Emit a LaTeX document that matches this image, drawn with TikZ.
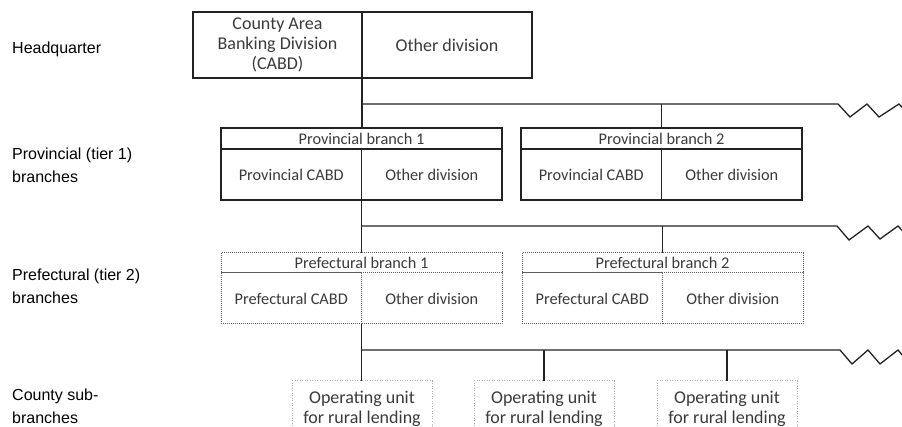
\documentclass[tikz,border=0pt]{standalone}
\usepackage{fontspec}
\usepackage{tikz}
\usetikzlibrary{positioning}
\newfontfamily\boxfont{Carlito}
\newfontfamily\lblfont{Liberation Sans}
\definecolor{ink}{RGB}{34,34,34}
\definecolor{boxtext}{RGB}{58,58,58}
\definecolor{dotgray}{RGB}{95,95,95}
\definecolor{paledot}{RGB}{175,175,175}
\tikzset{
  hqbox/.style={draw=ink,line width=2.4pt,inner sep=0pt,outer sep=0pt,align=center,
    text=boxtext,font=\boxfont\fontsize{18}{20}\selectfont},
  brbox/.style={draw=ink,line width=1.5pt,inner sep=0pt,outer sep=0pt,align=center,
    text=boxtext,font=\boxfont\fontsize{16.3}{19}\selectfont},
  prefbox/.style={brbox,draw=dotgray,line width=1pt,dash pattern=on 1pt off 1pt},
  oubox/.style={draw=paledot,line width=1pt,dash pattern=on 1pt off 1.5pt,inner sep=0pt,
    outer sep=0pt,align=center,text=boxtext,font=\boxfont\fontsize{18}{20}\selectfont},
  link/.style={draw=ink,line width=1.3pt},
  tier/.style={anchor=west,align=left,inner sep=0pt,text=black,
    font=\lblfont\fontsize{16}{23}\selectfont},
}

\begin{document}
\begin{tikzpicture}[x=1pt,y=-1pt]
\useasboundingbox (0,0) rectangle (902,427);
\clip (0,0) rectangle (902,427);
% tier labels
\node[tier] (tHq) at (12,49) {Headquarter};
\node[tier] (tProv) at (12,165) {Provincial (tier 1)\\branches};
\node[tier] (tPref) at (12,286) {Prefectural (tier 2)\\branches};
\node[tier] (tCounty) at (12,406) {County sub-\\branches};
% headquarter
\node[hqbox,anchor=north west,minimum width=169pt,minimum height=66pt] (hqCabd) at (193,12)
  {County Area\\Banking Division\\(CABD)};
\node[hqbox,anchor=north west,minimum width=170pt,minimum height=66pt] (hqOther) at (hqCabd.north east)
  {Other division};
% provincial branches
\foreach \i/\x in {1/221,2/521}{
  \node[brbox,anchor=north west,minimum width=281pt,minimum height=21pt] (prov\i) at (\x,128)
    {Provincial branch \i};
  \node[brbox,anchor=north west,minimum width=140.5pt,minimum height=51pt] (prov\i-cabd) at (prov\i.south west)
    {Provincial CABD};
  \node[brbox,anchor=north west,minimum width=140.5pt,minimum height=51pt] (prov\i-other) at (prov\i-cabd.north east)
    {Other division};
}
% prefectural branches
\foreach \i/\x in {1/221,2/522}{
  \node[prefbox,anchor=north west,minimum width=281pt,minimum height=20pt] (pref\i) at (\x,253)
    {Prefectural branch \i};
  \node[prefbox,anchor=north west,minimum width=140.5pt,minimum height=51pt] (pref\i-cabd) at (pref\i.south west)
    {Prefectural CABD};
  \node[prefbox,anchor=north west,minimum width=140.5pt,minimum height=51pt] (pref\i-other) at (pref\i-cabd.north east)
    {Other division};
}
% county sub-branches
\foreach \i/\x in {1/362,2/544,3/727}
  \node[oubox,anchor=north,minimum width=140pt,minimum height=56pt] (ou\i) at (\x,381)
    {Operating unit\\for rural lending};
% connectors
\draw[link] (hqCabd.south east) -- (hqCabd.south east |- prov1.north);
\coordinate (bus1) at (hqCabd.south east |- 0,104);
\coordinate (zig1) at (838,104);
\draw[link] (bus1) -- (zig1) -- ++(12,13) -- ++(17,-13) -- ++(12,13) -- ++(20,-13) -- ++(12,13);
\draw[link] (prov2.north) -- (prov2.north |- bus1);

\draw[link] (prov1-cabd.south east) -- (prov1-cabd.south east |- pref1.north);
\coordinate (bus2) at (prov1-cabd.south east |- 0,226);
\coordinate (zig2) at (837,226);
\draw[link] (bus2) -- (zig2) -- ++(12,14) -- ++(19,-14) -- ++(12,13) -- ++(18,-13) -- ++(12,13);
\draw[link] (pref2.north) -- (pref2.north |- bus2);

\draw[link] (pref1-cabd.south east) -- (pref1-cabd.south east |- ou1.north);
\coordinate (bus3) at (pref1-cabd.south east |- 0,350);
\coordinate (zig3) at (840,350);
\draw[link] (bus3) -- (zig3) -- ++(12,14) -- ++(16,-14) -- ++(12,14) -- ++(18,-14) -- ++(12,14);
\foreach \i in {2,3}
  \draw[link] (ou\i.north) -- (ou\i.north |- bus3);
\end{tikzpicture}
\end{document}
